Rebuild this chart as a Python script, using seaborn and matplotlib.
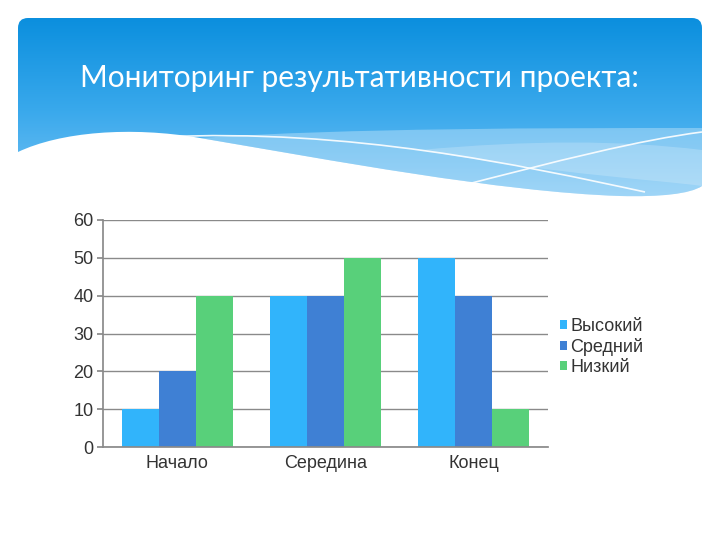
import numpy as np
import pandas as pd
import matplotlib
matplotlib.use('Agg')
import matplotlib.pyplot as plt
import seaborn as sns
from matplotlib.path import Path
from matplotlib.patches import PathPatch, Patch
from matplotlib.colors import LinearSegmentedColormap

# data
categories = ['Начало', 'Середина', 'Конец']
levels = ['Высокий', 'Средний', 'Низкий']
vysokiy = [10, 40, 50]
sredniy = [20, 40, 40]
nizkiy = [40, 50, 10]
colors = ['#31b4fb', '#3f80d4', '#58d07a']

df = pd.DataFrame({
    'stage': categories * 3,
    'level': [levels[0]] * 3 + [levels[1]] * 3 + [levels[2]] * 3,
    'value': vysokiy + sredniy + nizkiy,
})

sns.set_theme(style='white')
plt.rcParams['font.family'] = ['Liberation Sans', 'DejaVu Sans']

fig = plt.figure(figsize=(7.2, 5.4), dpi=100)

# slide header: blue gradient with a wave at the bottom
bg = fig.add_axes([0, 0, 1, 1])
bg.set_axis_off()
cmap = LinearSegmentedColormap.from_list('hdr', ['#0b8fde', '#3aa9ec', '#7cc6f5'])
grad = np.linspace(0, 1, 256).reshape(-1, 1)
img = bg.imshow(grad, cmap=cmap, extent=(18, 702, 205, 18), aspect='auto', zorder=0)
verts = [(28, 18), (692, 18), (702, 18), (702, 28),
         (702, 186),
         (690, 194), (660, 197), (620, 196),
         (500, 192), (330, 160), (200, 138),
         (130, 126), (60, 132), (18, 152),
         (18, 28), (18, 18), (28, 18), (28, 18)]
codes = [Path.MOVETO, Path.LINETO, Path.CURVE3, Path.CURVE3,
         Path.LINETO,
         Path.CURVE4, Path.CURVE4, Path.CURVE4,
         Path.CURVE4, Path.CURVE4, Path.CURVE4,
         Path.CURVE4, Path.CURVE4, Path.CURVE4,
         Path.LINETO, Path.CURVE3, Path.CURVE3, Path.CLOSEPOLY]
clip = PathPatch(Path(verts, codes), facecolor='none', edgecolor='none', transform=bg.transData)
bg.add_patch(clip)
img.set_clip_path(clip)

# lighter band
band = Path([(200, 138), (350, 128), (550, 128), (702, 128),
             (702, 186), (690, 194), (660, 197), (620, 196),
             (500, 192), (330, 160), (200, 138)],
            [Path.MOVETO, Path.CURVE4, Path.CURVE4, Path.CURVE4,
             Path.LINETO, Path.CURVE4, Path.CURVE4, Path.CURVE4,
             Path.CURVE4, Path.CURVE4, Path.CURVE4])
bg.add_patch(PathPatch(band, facecolor='white', edgecolor='none', alpha=0.3, zorder=1))
band2 = Path([(420, 150), (530, 140), (620, 140), (702, 150),
              (702, 186), (660, 180), (560, 175), (420, 150)],
             [Path.MOVETO, Path.CURVE4, Path.CURVE4, Path.CURVE4,
              Path.LINETO, Path.CURVE4, Path.CURVE4, Path.CURVE4])
bg.add_patch(PathPatch(band2, facecolor='white', edgecolor='none', alpha=0.2, zorder=1))
line1 = Path([(160, 137), (350, 128), (520, 165), (645, 192)],
             [Path.MOVETO, Path.CURVE4, Path.CURVE4, Path.CURVE4])
line2 = Path([(445, 190), (560, 160), (640, 140), (702, 132)],
             [Path.MOVETO, Path.CURVE4, Path.CURVE4, Path.CURVE4])
for p in (line1, line2):
    bg.add_patch(PathPatch(p, facecolor='none', edgecolor='white', lw=1.2, alpha=0.9, zorder=2))
bg.set_xlim(0, 720)
bg.set_ylim(540, 0)
bg.text(80, 78, 'Мониторинг результативности проекта:', color='white',
        fontsize=21.5, family=['Lato', 'DejaVu Sans'], va='center', ha='left', zorder=3)

# the chart
ax = fig.add_axes([103 / 720, 93 / 540, 445 / 720, 227 / 540])
sns.barplot(data=df, x='stage', y='value', hue='level', palette=colors,
            saturation=1, width=0.75, gap=0, linewidth=0, ax=ax, zorder=2)
ax.set_ylim(0, 60)
ax.set_xlim(-0.5, 2.5)
ax.set_yticks(range(0, 61, 10))
ax.yaxis.grid(True, color='#8a8a8a', lw=1)
ax.set_axisbelow(True)
for s in ('top', 'right'):
    ax.spines[s].set_visible(False)
for s in ('left', 'bottom'):
    ax.spines[s].set_color('#8a8a8a')
ax.set_xlabel('')
ax.set_ylabel('')
ax.tick_params(axis='x', which='major', length=0, pad=6, labelsize=13, labelcolor='#333333')
ax.set_xticks([0.5, 1.5, 2.5], minor=True)
ax.tick_params(axis='x', which='minor', length=5, color='#8a8a8a', direction='out')
ax.tick_params(axis='y', length=4, color='#8a8a8a', direction='out', left=True,
               labelsize=13, labelcolor='#333333', pad=3)

ax.get_legend().remove()
handles = [Patch(facecolor=c, edgecolor='none') for c in colors]
fig.legend(handles, levels, loc='center left', bbox_to_anchor=(553 / 720, 1 - 347 / 540),
           frameon=False, fontsize=13, handlelength=0.4, handleheight=0.4,
           handletextpad=0.15, labelspacing=0.15, labelcolor='#333333', borderaxespad=0)

fig.savefig('out.png', dpi=100)
